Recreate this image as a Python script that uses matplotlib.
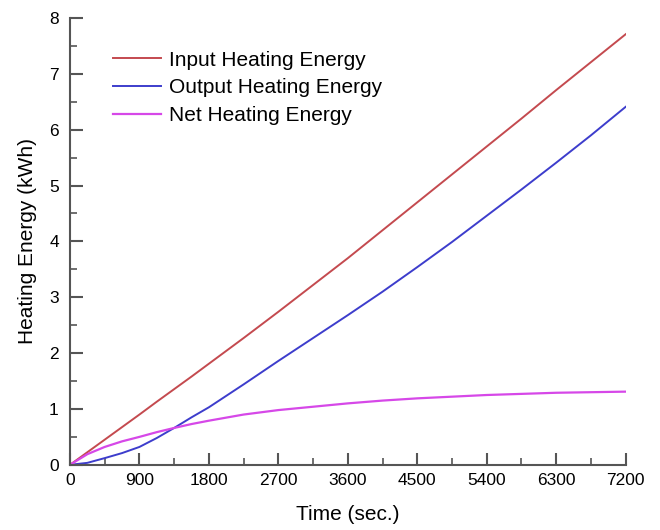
import numpy as np
import matplotlib.pyplot as plt
from matplotlib.ticker import MultipleLocator

plt.rcParams['font.family'] = ['Liberation Sans', 'DejaVu Sans']

# datos
tiempo = [0, 225, 450, 675, 900, 1125, 1350, 1575, 1800, 2250, 2700, 3150, 3600, 4050, 4500, 4950, 5400, 5850, 6300, 6750, 7200]
entrada = [0, 0.225, 0.45, 0.675, 0.90, 1.13, 1.355, 1.58, 1.81, 2.27, 2.74, 3.22, 3.70, 4.20, 4.70, 5.20, 5.70, 6.20, 6.71, 7.21, 7.71]
salida = [0, 0.035, 0.12, 0.21, 0.32, 0.48, 0.66, 0.85, 1.03, 1.44, 1.86, 2.27, 2.68, 3.10, 3.54, 3.99, 4.46, 4.93, 5.41, 5.90, 6.41]
neto = [0, 0.19, 0.32, 0.42, 0.50, 0.585, 0.66, 0.73, 0.79, 0.90, 0.98, 1.04, 1.10, 1.15, 1.19, 1.22, 1.25, 1.27, 1.29, 1.30, 1.31]

fig = plt.figure(figsize=(6.6, 5.3), dpi=100)
ax = fig.add_axes([0.106, 0.123, 0.842, 0.843])

ax.plot(tiempo, entrada, color='#c44a4f', lw=1.4, label='Input Heating Energy')
ax.plot(tiempo, salida, color='#3d3dcc', lw=1.4, label='Output Heating Energy')
ax.plot(tiempo, neto, color='#d648e8', lw=1.6, label='Net Heating Energy')

ax.set_xlim(0, 7200)
ax.set_ylim(0, 8)
ax.xaxis.set_major_locator(MultipleLocator(900))
ax.xaxis.set_minor_locator(MultipleLocator(450))
ax.yaxis.set_major_locator(MultipleLocator(1))
ax.yaxis.set_minor_locator(MultipleLocator(0.5))

for s in ['top', 'right']:
    ax.spines[s].set_visible(False)
for s in ['left', 'bottom']:
    ax.spines[s].set_color('#555555')
    ax.spines[s].set_linewidth(1.5)

ax.tick_params(which='major', direction='in', length=9, width=1.5, color='#555555', labelsize=12.5, pad=6)
ax.tick_params(which='minor', direction='in', length=5, width=1.2, color='#555555')
ax.tick_params(axis='y', pad=8)

ax.set_xlabel('Time (sec.)', fontsize=15, labelpad=12)
ax.set_ylabel('Heating Energy (kWh)', fontsize=15, labelpad=9)

ax.legend(loc='upper left', bbox_to_anchor=(0.055, 0.955), frameon=False, fontsize=15,
          handlelength=2.3, handletextpad=0.4, labelspacing=0.42, borderaxespad=0.2)

plt.savefig('out.png')
